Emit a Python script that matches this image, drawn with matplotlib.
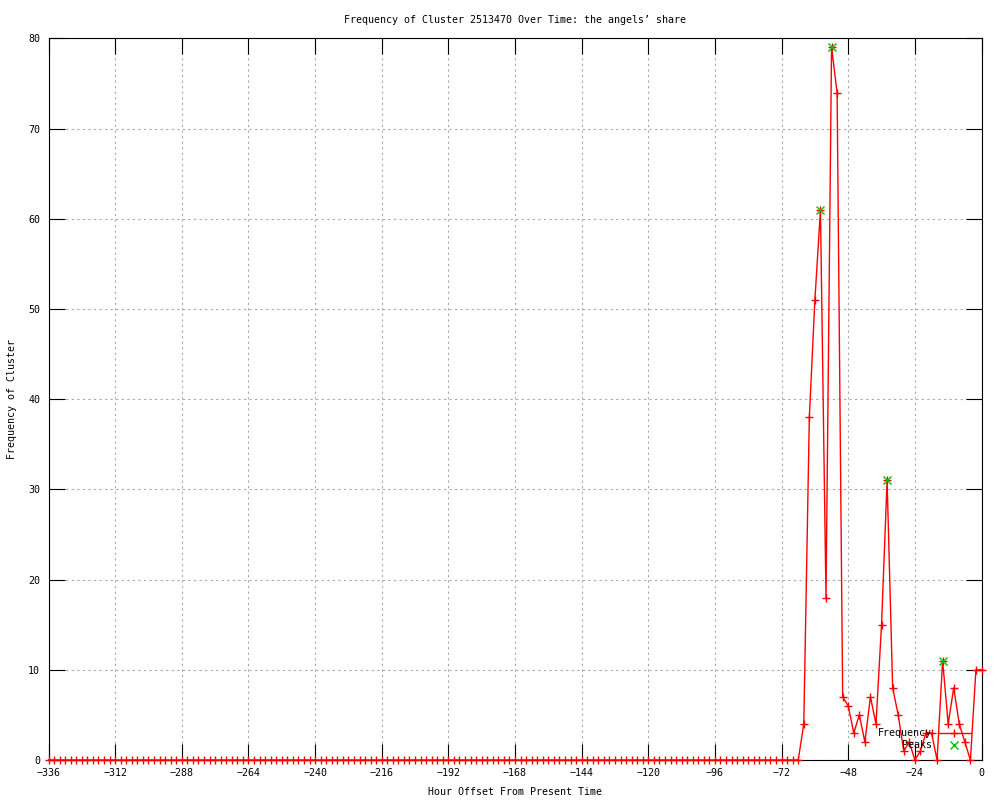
import numpy as np
import matplotlib
matplotlib.use("Agg")
import matplotlib.pyplot as plt

plt.rcParams['font.family'] = ['DejaVu Sans Mono']
plt.rcParams['font.size'] = 7.2

# hours before now, one sample every 2 hours
hours = np.arange(-336, 1, 2)
# all zero up to -66, then the burst
freq = [0] * 136 + [4, 38, 51, 61, 18, 79, 74, 7, 6, 3, 5, 2, 7, 4, 15, 31,
                    8, 5, 1, 2, 0, 1, 3, 3, 0, 11, 4, 8, 4, 2, 0, 10, 10]

peak_hours = [-58, -54, -34, -14]
peak_vals = [61, 79, 31, 11]

xticks = np.arange(-336, 1, 24)
yticks = np.arange(0, 81, 10)

fig = plt.figure(figsize=(10, 8), dpi=100)
ax = fig.add_axes([0.0485, 0.05, 0.933, 0.902])

ax.plot(hours, freq, color='red', lw=1, marker='+', ms=6, mew=1,
        label='Frequency', clip_on=False, zorder=3)
ax.plot(peak_hours, peak_vals, ls='none', color='#00c000', marker='x', ms=5.5,
        mew=1, label='Peaks', clip_on=False, zorder=4)

ax.set_xlim(-336, 0)
ax.set_ylim(0, 80)
ax.set_xticks(xticks)
ax.set_yticks(yticks)
ax.tick_params(direction='in', length=11.5, width=0.8, top=True, right=True,
               pad=6)
for s in ax.spines.values():
    s.set_linewidth(0.8)
ax.grid(True, color='#a8a8a8', ls=(0, (2, 3)), lw=0.8)
ax.set_axisbelow(True)

ax.set_title('Frequency of Cluster 2513470 Over Time: the angels\u2019 share',
             fontsize=7.2, pad=11)
ax.set_xlabel('Hour Offset From Present Time', labelpad=6)
ax.set_ylabel('Frequency of Cluster', labelpad=8)

ax.legend(loc='lower right', bbox_to_anchor=(0.993, 0.008), frameon=False,
          markerfirst=False, handlelength=3.3, borderaxespad=0,
          labelspacing=0.2, handletextpad=0.6)

fig.savefig('out.png', dpi=100)
